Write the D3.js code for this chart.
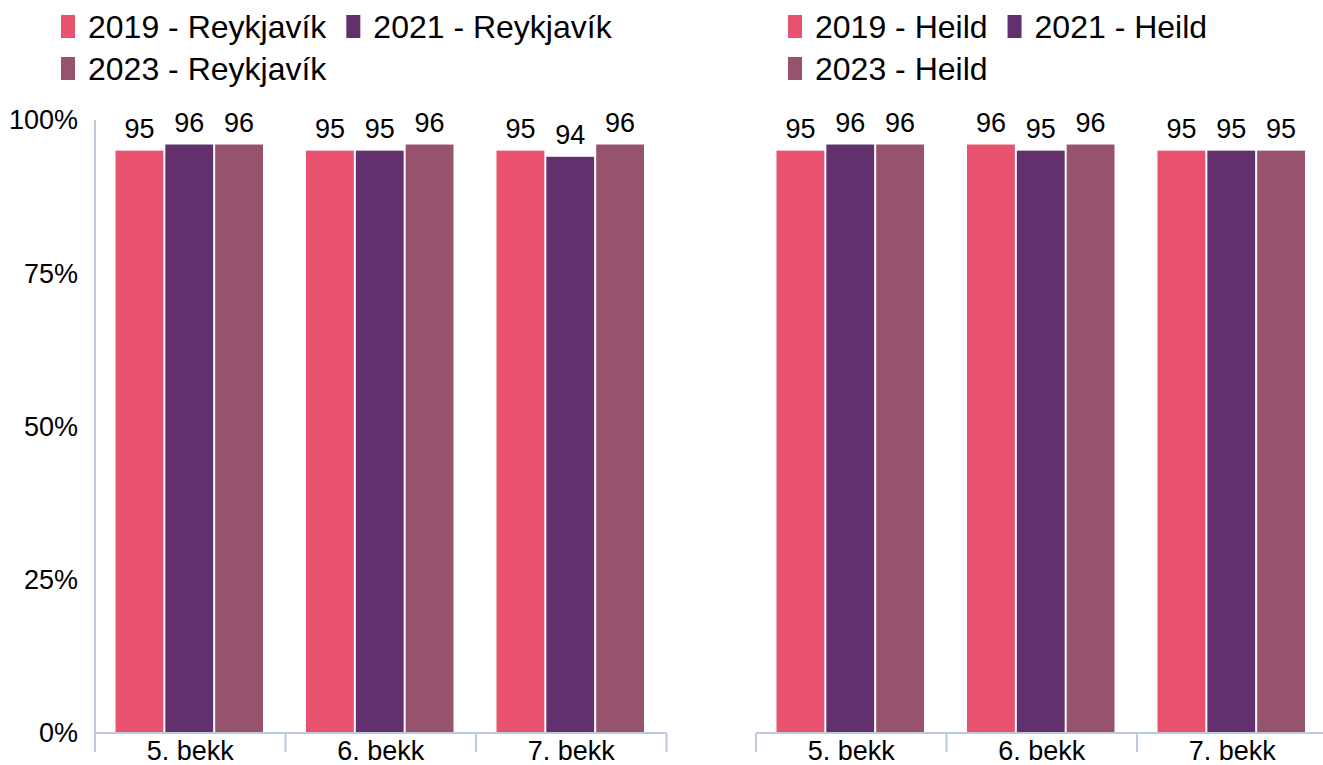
<!DOCTYPE html>
<html>
<head>
<meta charset="utf-8">
<script src="https://cdn.jsdelivr.net/npm/d3@7"></script>
<style>
  body { margin: 0; background: #fff; }
  text { font-family: "Liberation Sans", Arial, sans-serif; fill: #000; }
</style>
</head>
<body>
<div id="chart"></div>
<script>
// data
var categories = ["5. bekk", "6. bekk", "7. bekk"];
var years = ["2019", "2021", "2023"];
var reykjavik = [[95, 96, 96], [95, 95, 96], [95, 94, 96]];
var heild = [[95, 96, 96], [96, 95, 96], [95, 95, 95]];
var yTicks = [0, 25, 50, 75, 100];
var colors = ["#e9526f", "#62306d", "#97536e"];

var width = 1323, height = 765;
var axisColor = "#bccadb";
var y = d3.scaleLinear().domain([0, 100]).range([733, 120]);

var svg = d3.select("#chart").append("svg")
    .attr("width", width)
    .attr("height", height);

var panel = (vals, name, x0Range, legendX, showY) => {
  var g = svg.append("g");
  var x0 = d3.scaleBand().domain(categories).range(x0Range);
  var pad = 20.5;
  var x1 = d3.scaleBand().domain(years).range([pad, x0.bandwidth() - pad]);

  // bars
  var grp = g.selectAll(".grp")
    .data(categories)
    .join("g")
      .attr("transform", d => `translate(${x0(d)},0)`);
  grp.selectAll("rect")
    .data((d, i) => vals[i].map((v, j) => ({year: years[j], v: v, j: j})))
    .join("rect")
      .attr("x", d => x1(d.year))
      .attr("y", d => y(d.v))
      .attr("width", x1.bandwidth() - 2)
      .attr("height", d => y(0) - y(d.v))
      .attr("fill", d => colors[d.j]);
  grp.selectAll("text")
    .data((d, i) => vals[i].map((v, j) => ({year: years[j], v: v})))
    .join("text")
      .attr("x", d => x1(d.year) + (x1.bandwidth() - 2) / 2)
      .attr("y", d => y(d.v) - 13)
      .attr("text-anchor", "middle")
      .style("font-size", "27px")
      .text(d => d.v);

  // x axis
  var xAxis = g.append("g");
  xAxis.append("line")
    .attr("x1", x0Range[0]).attr("x2", x0Range[1])
    .attr("y1", y(0)).attr("y2", y(0))
    .attr("stroke", axisColor).attr("stroke-width", 2);
  var edges = categories.map(c => x0(c)).concat([x0Range[1]]);
  xAxis.selectAll(".tk")
    .data(edges)
    .join("line")
      .attr("x1", d => d).attr("x2", d => d)
      .attr("y1", y(0)).attr("y2", 752)
      .attr("stroke", axisColor).attr("stroke-width", 2);
  xAxis.selectAll("text")
    .data(categories)
    .join("text")
      .attr("x", d => x0(d) + x0.bandwidth() / 2)
      .attr("y", 760)
      .attr("text-anchor", "middle")
      .style("font-size", "27px")
      .text(d => d);

  // y axis
  if (showY) {
    g.append("line")
      .attr("x1", x0Range[0]).attr("x2", x0Range[0])
      .attr("y1", y(100)).attr("y2", 752)
      .attr("stroke", axisColor).attr("stroke-width", 2);
    g.selectAll(".ylab")
      .data(yTicks)
      .join("text")
        .attr("x", 78)
        .attr("y", d => y(d))
        .attr("dy", "0.35em")
        .attr("text-anchor", "end")
        .style("font-size", "27px")
        .text(d => d + "%");
  }

  // legend
  var items = years.map(yr => `${yr} - ${name}`);
  var lx = legendX, row = 0;
  items.forEach((t, i) => {
    var item = g.append("g");
    var txt = item.append("text")
      .attr("x", 27)
      .attr("y", 38)
      .style("font-size", "32px")
      .text(t);
    var w = txt.node().getComputedTextLength();
    if (i == 2) { lx = legendX; row = 1; }
    item.attr("transform", `translate(${lx},${row * 42})`);
    item.append("rect")
      .attr("x", 0).attr("y", 15)
      .attr("width", 14).attr("height", 23)
      .attr("fill", colors[i]);
    lx += 27 + w + 20;
  });
};

panel(reykjavik, "Reykjavík", [95, 666.5], 61, true);
panel(heild, "Heild", [756, 1327.5], 788, false);
</script>
</body>
</html>
